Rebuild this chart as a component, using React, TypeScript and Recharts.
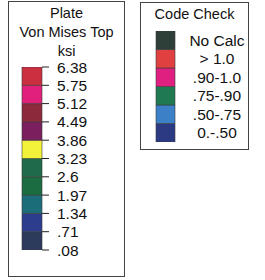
import React from 'react';
import { BarChart, Bar, XAxis, YAxis } from 'recharts';

// Plate von Mises legend, top to bottom
const plateTicks = [6.38, 5.75, 5.12, 4.49, 3.86, 3.23, 2.6, 1.97, 1.34, 0.71, 0.08];
const plateTickLabels = ['6.38', '5.75', '5.12', '4.49', '3.86', '3.23', '2.6', '1.97', '1.34', '.71', '.08'];
const plateColors = ['#cc2f3f', '#e0207a', '#8c2a3c', '#7c1f5e', '#f2f23a', '#1f6a4a', '#1c6c42', '#1c6d7a', '#2b3d8c', '#2c3a5c'];

// Code check legend, top to bottom
const codeLabels = ['No Calc', '> 1.0', '.90-1.0', '.75-.90', '.50-.75', '0.-.50'];
const codeColors = ['#2e3f3a', '#e04040', '#e02080', '#1f7a52', '#3c80c8', '#2c3a84'];
const codeBoundaries = [0, 1, 2, 3, 4, 5, 6];
const codeLabelPos = [5.5, 4.5, 3.5, 2.5, 1.5, 0.5];

const FONT = 'Arial, "Liberation Sans", sans-serif';

// one stacked column: transparent base up to the lowest tick, then each band
const bottomUp = [...plateTicks].reverse();
const plateRow: Record<string, number | string> = { name: 'plate', base: bottomUp[0] };
for (let i = 1; i < bottomUp.length; i++) {
  plateRow['b' + (i - 1)] = +(bottomUp[i] - bottomUp[i - 1]).toFixed(2);
}
const plateData = [plateRow];
const plateBandColors = [...plateColors].reverse();

const codeRow: Record<string, number | string> = { name: 'code' };
codeLabels.forEach((_, i) => { codeRow['c' + i] = 1; });
const codeData = [codeRow];
const codeBandColors = [...codeColors].reverse();

const CodeTick = (props: any) => {
  const { x, y, payload } = props;
  const idx = codeLabelPos.indexOf(payload.value);
  return (
    <text x={x + 42} y={y} textAnchor="middle" dominantBaseline="central" fill="#111" fontSize={15.5} fontFamily={FONT}>
      {codeLabels[idx]}
    </text>
  );
};

const boxStyle: React.CSSProperties = {
  position: 'absolute',
  border: '1px solid #444',
  boxSizing: 'border-box',
};

const titleStyle: React.CSSProperties = {
  position: 'absolute',
  textAlign: 'center',
  fontFamily: FONT,
  fontSize: 14.5,
  lineHeight: '19px',
  color: '#111',
};

export default function App() {
  return (
    <div style={{ position: 'absolute', left: 0, top: 0, width: 265, height: 280, background: '#fff', overflow: 'hidden' }}>
      <div style={{ ...boxStyle, left: 8, top: 1, width: 117, height: 276 }} />
      <div style={{ ...titleStyle, left: 8, top: 4, width: 117 }}>
        Plate<br />Von Mises Top<br />ksi
      </div>
      <div style={{ position: 'absolute', left: 0, top: 0 }}>
        <BarChart width={125} height={280} data={plateData} barCategoryGap={0} margin={{ top: 67, right: 0, bottom: 30, left: 22 }}>
          <XAxis dataKey="name" hide />
          <YAxis
            orientation="right"
            type="number"
            domain={[0.08, 6.38]}
            allowDataOverflow
            ticks={plateTicks}
            interval={0}
            width={83}
            axisLine={false}
            tickSize={7}
            tickMargin={8}
            tickLine={{ stroke: '#222' }}
            tick={{ fill: '#111', fontSize: 15.5, fontFamily: FONT }}
            tickFormatter={(v: number) => plateTickLabels[plateTicks.indexOf(v)] ?? ''}
          />
          <Bar dataKey="base" stackId="p" fill="transparent" isAnimationActive={false} />
          {plateBandColors.map((c, i) => (
            <Bar key={i} dataKey={'b' + i} stackId="p" fill={c} stroke="#3a3a3a" strokeWidth={0.6} isAnimationActive={false} />
          ))}
        </BarChart>
      </div>

      <div style={{ ...boxStyle, left: 140, top: 2, width: 109, height: 148 }} />
      <div style={{ ...titleStyle, left: 140, top: 5, width: 109 }}>Code Check</div>
      <div style={{ position: 'absolute', left: 140, top: 0 }}>
        <BarChart width={110} height={150} data={codeData} barCategoryGap={0} margin={{ top: 31, right: 0, bottom: 8, left: 16 }}>
          <XAxis dataKey="name" hide />
          <YAxis
            yAxisId="lines"
            orientation="right"
            type="number"
            domain={[0, 6]}
            allowDataOverflow
            ticks={codeBoundaries}
            interval={0}
            width={0}
            axisLine={false}
            tickSize={8}
            tickLine={{ stroke: '#222' }}
            tickFormatter={() => ''}
          />
          <YAxis
            yAxisId="labels"
            orientation="right"
            type="number"
            domain={[0, 6]}
            allowDataOverflow
            ticks={codeLabelPos}
            interval={0}
            width={75}
            axisLine={false}
            tickLine={false}
            tickSize={0}
            tickMargin={0}
            tick={<CodeTick />}
          />
          {codeBandColors.map((c, i) => (
            <Bar key={i} yAxisId="lines" dataKey={'c' + i} stackId="c" fill={c} stroke="#3a3a3a" strokeWidth={0.6} isAnimationActive={false} />
          ))}
        </BarChart>
      </div>
    </div>
  );
}
